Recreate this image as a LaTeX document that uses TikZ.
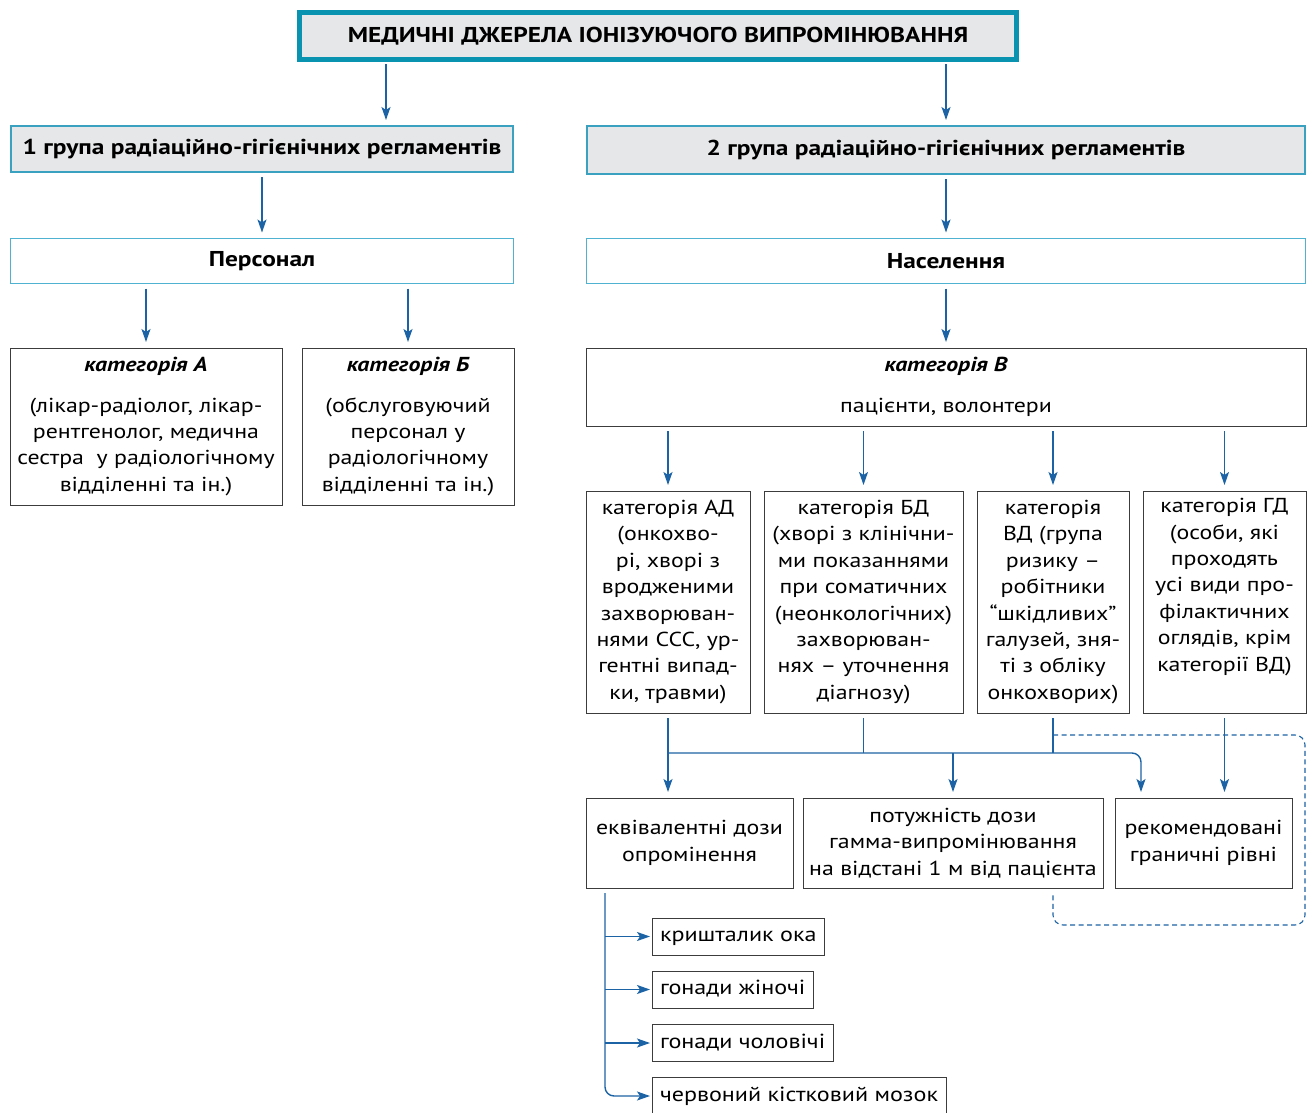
\documentclass[tikz,border=0pt]{standalone}
\usepackage{fontspec}
\setmainfont{PT Sans}[FakeStretch=1.18]
\usetikzlibrary{arrows.meta,calc}
\definecolor{teal}{HTML}{0A93B0}
\definecolor{grpline}{HTML}{3AA2C0}
\definecolor{lightline}{HTML}{4FB2D0}
\definecolor{grayfill}{HTML}{E6E7E9}
\definecolor{arrblue}{HTML}{1B63A5}
\definecolor{boxline}{HTML}{3C3C3C}
\begin{document}
\begin{tikzpicture}[x=1pt,y=-1pt,
  every node/.style={inner sep=0pt, outer sep=0pt},
  titlebox/.style={draw=teal, line width=5pt, fill=grayfill, font=\fontsize{21.5}{24}\selectfont\bfseries},
  groupbox/.style={draw=grpline, line width=2pt, fill=grayfill, font=\fontsize{21.5}{24}\selectfont\bfseries},
  peoplebox/.style={draw=lightline, line width=1.5pt, font=\fontsize{21.5}{24}\selectfont\bfseries},
  catbox/.style={draw=boxline, line width=1pt, align=center, font=\fontsize{20.2}{26.4}\selectfont},
  itembox/.style={draw=boxline, line width=1pt, anchor=west, inner xsep=8pt, text height=12pt, text depth=2pt, font=\fontsize{20.4}{24}\selectfont},
  arr/.style={draw=arrblue, line width=1.4pt, -{Stealth[length=13pt,width=9pt,inset=3pt]}, shorten <=5pt, shorten >=6pt},
  conn/.style={draw=arrblue, line width=1.4pt, shorten <=5pt},
  dashline/.style={draw=arrblue, line width=1.1pt, dash pattern=on 5pt off 3.5pt}
]
\useasboundingbox (0,0) rectangle (1312,1113);

% top level
\node[titlebox, minimum width=717pt, minimum height=47pt] (top) at (658,36) {МЕДИЧНІ ДЖЕРЕЛА ІОНІЗУЮЧОГО ВИПРОМІНЮВАННЯ};

% groups of regulations
\node[groupbox, minimum width=502pt, minimum height=46pt] (g1) at (262,149) {1 група радіаційно-гігієнічних регламентів};
\node[groupbox, minimum width=718pt, minimum height=48pt] (g2) at (946,150) {2 група радіаційно-гігієнічних регламентів};

% who is exposed
\node[peoplebox, minimum width=503pt, minimum height=45pt] (pers) at (262,261) {Персонал};
\node[peoplebox, minimum width=719pt, minimum height=45pt] (pop) at (946,261) {Населення};

% categories
\node[catbox, minimum width=272pt, minimum height=157pt] (catA) at (146,426.5)
  {{\bfseries\itshape категорія А}\\[14pt](лікар-радіолог, лікар-\\рентгенолог, медична\\сестра\ \ у радіологічному\\відділенні та ін.)};
\node[catbox, minimum width=212pt, minimum height=157pt] (catB) at (408,426.5)
  {{\bfseries\itshape категорія Б}\\[14pt](обслуговуючий\\персонал у\\радіологічному\\відділенні та ін.)};
\node[catbox, minimum width=720pt, minimum height=78pt] (catV) at (946,387)
  {{\bfseries\itshape категорія В}\\[14pt]пацієнти, волонтери};

% patient categories
\node[catbox, minimum width=164pt, minimum height=222pt] (AD) at (668,602)
  {категорія АД\\(онкохво-\\рі, хворі з\\вродженими\\захворюван-\\нями ССС, ур-\\гентні випад-\\ки, травми)};
\node[catbox, minimum width=199pt, minimum height=222pt] (BD) at (863.5,602)
  {категорія БД\\(хворі з клінічни-\\ми показаннями\\при соматичних\\(неонкологічних)\\захворюван-\\нях -- уточнення\\діагнозу)};
\node[catbox, minimum width=152pt, minimum height=222pt] (VD) at (1053,602)
  {категорія\\ВД (група\\ризику --\\робітники\\“шкідливих”\\галузей, зня-\\ті з обліку\\онкохворих)};
\node[catbox, minimum width=163pt, minimum height=222pt] (GD) at (1224.5,602)
  {категорія ГД\\(особи, які\\проходять\\усі види про-\\філактичних\\оглядів, крім\\категорії ВД)\\\strut};

% regulated quantities
\node[catbox, minimum width=207pt, minimum height=90pt] (ekv) at (689.5,843)
  {еквівалентні дози\\опромінення};
\node[catbox, minimum width=300pt, minimum height=90pt] (pot) at (953,843)
  {потужність дози\\гамма-випромінювання\\на відстані 1 м від пацієнта};
\node[catbox, minimum width=177pt, minimum height=90pt] (rek) at (1203.5,843)
  {рекомендовані\\граничні рівні};

% organs
\node[itembox, minimum height=37pt] (m1) at (652,936.5) {кришталик ока};
\node[itembox, minimum height=37pt] (m2) at (652,989.5) {гонади жіночі};
\node[itembox, minimum height=37pt] (m3) at (652,1043) {гонади чоловічі};
\node[itembox, minimum height=37pt] (m4) at (652,1096) {червоний кістковий мозок};

% column positions of connectors
\coordinate (cL) at (386,0);
\coordinate (cR) at (946,0);
\coordinate (cA) at (146,0);
\coordinate (cB) at (408,0);
\coordinate (bus) at (0,753);
\coordinate (rekX) at (1141,0);
\coordinate (spine) at (605,0);
\coordinate (dtop) at (0,735);
\coordinate (dbot) at (0,925);
\coordinate (dR) at (1305,0);

% connectors, upper part
\draw[arr] (top.south -| cL) -- (g1.north -| cL);
\draw[arr] (top.south -| cR) -- (g2.north -| cR);
\draw[arr] (g1.south) -- (pers.north);
\draw[arr] (g2.south -| cR) -- (pop.north -| cR);
\draw[arr] (pers.south -| cA) -- (catA.north);
\draw[arr] (pers.south -| cB) -- (catB.north);
\draw[arr] (pop.south -| cR) -- (catV.north -| cR);
\draw[arr] (catV.south -| AD.north) -- (AD.north);
\draw[arr] (catV.south -| BD.north) -- (BD.north);
\draw[arr] (catV.south -| VD.north) -- (VD.north);
\draw[arr] (catV.south -| GD.north) -- (GD.north);

% connectors, lower part
\draw[arr] (AD.south) -- (ekv.north -| AD.south);
\draw[conn] (BD.south) -- (BD.south |- bus);
\draw[conn] (VD.south) -- (VD.south |- bus);
\draw[arr, shorten <=0pt, rounded corners=9pt] (AD.south |- bus) -- (rekX |- bus) -- (rekX |- rek.north);
\draw[arr, shorten <=0pt] (pot.north |- bus) -- (pot.north);
\draw[arr] (GD.south) -- (GD.south |- rek.north);
\draw[dashline, rounded corners=10pt] (VD.south |- dtop) -- (dR |- dtop) -- (dR |- dbot) -- (VD.south |- dbot) -- ($(VD.south |- pot.south)+(0,6)$);

% organ branches
\draw[arr, shorten >=2pt, rounded corners=9pt] (ekv.south -| spine) -- (spine |- m4.west) -- (m4.west);
\draw[arr, shorten <=0pt, shorten >=2pt] (spine |- m1.west) -- (m1.west);
\draw[arr, shorten <=0pt, shorten >=2pt] (spine |- m2.west) -- (m2.west);
\draw[arr, shorten <=0pt, shorten >=2pt] (spine |- m3.west) -- (m3.west);
\end{tikzpicture}
\end{document}
